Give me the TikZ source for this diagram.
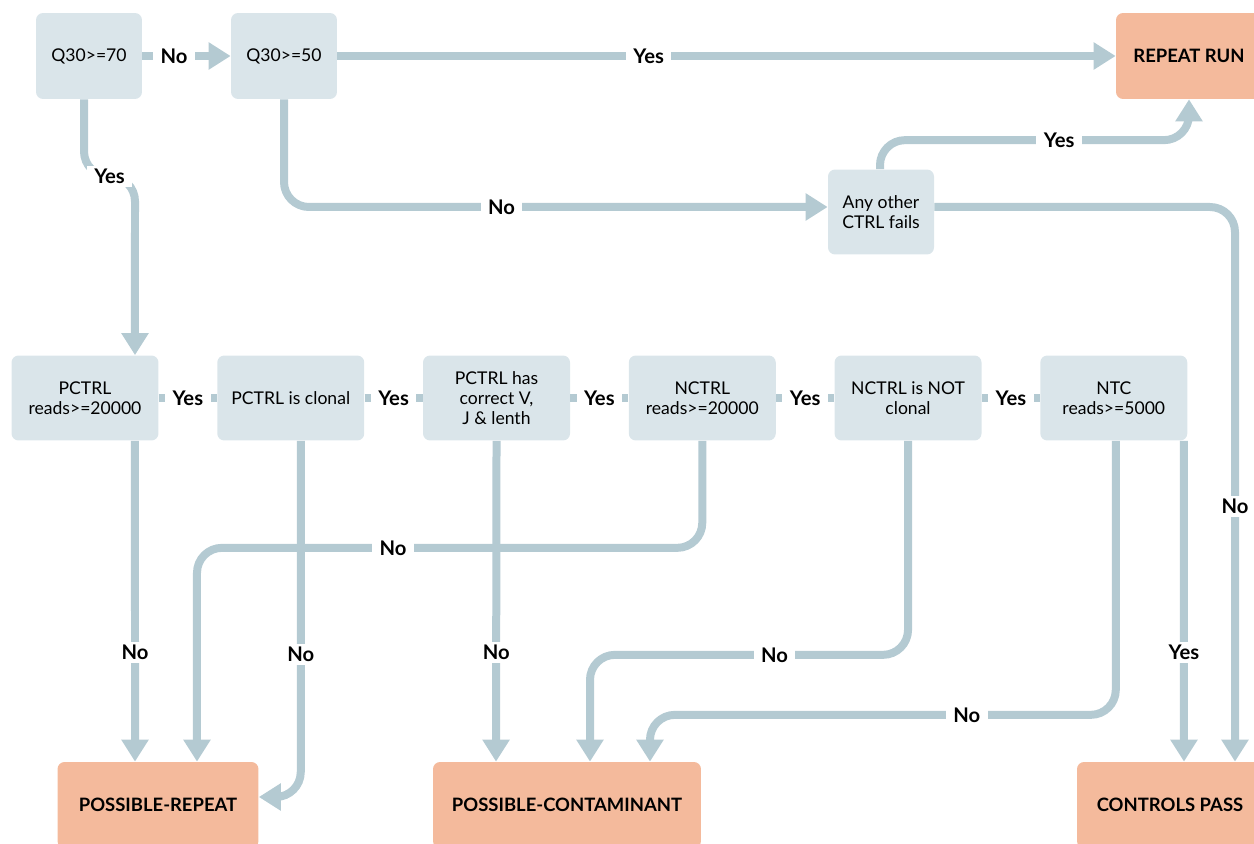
\documentclass[tikz,border=0pt]{standalone}
\usepackage{fontspec}
\setmainfont{Lato}
\usetikzlibrary{positioning,arrows.meta}
\definecolor{testblue}{HTML}{DAE5EA}
\definecolor{linkblue}{HTML}{B4CAD2}
\definecolor{resultpink}{HTML}{F4BA9C}

\begin{document}
\begin{tikzpicture}[
        x=0.02cm, y=-0.02cm,
        node distance = 4.116cm,
        test/.style = {fill=testblue, rounded corners=0.14cm, align=center,
            minimum width=2.94cm, minimum height=1.7cm, inner sep=2pt,
            font=\fontsize{10}{11.5}\selectfont},
        smalltest/.style = {test, minimum width=2.12cm, minimum height=1.72cm},
        result/.style = {fill=resultpink, rounded corners=0.14cm,
            minimum height=1.72cm, font=\bfseries\fontsize{10.5}{12}\selectfont},
        link/.style = {draw=linkblue, line width=0.16cm, rounded corners=0.5cm},
        arrow/.style = {link, -{Triangle[length=0.44cm,width=0.52cm]}},
        lab/.style = {fill=white, inner xsep=0.15cm, inner ysep=0.06cm,
            rounded corners=0pt, font=\bfseries\fontsize{11.5}{12}\selectfont}]
        \useasboundingbox (0,0) rectangle (1254,844);
        % NODES
        % top row
        \node[smalltest] (q70) at (89,56) {Q30>=70};
        \node[smalltest] (q50) at (284,56) {Q30>=50};
        \node[result, minimum width=2.92cm] (rerun) at (1189,56) {REPEAT RUN};
        \node[smalltest, minimum height=1.7cm] (other) at (881,212) {Any other\\CTRL fails};
        % control checks
        \node[test] (p1) at (85,398) {PCTRL\\reads>=20000};
        \node[test, right of = p1] (p2) {PCTRL is clonal};
        \node[test, right of = p2] (p3) {PCTRL has\\correct V,\\J \& lenth};
        \node[test, right of = p3] (p4) {NCTRL\\reads>=20000};
        \node[test, right of = p4] (p5) {NCTRL is NOT\\clonal};
        \node[test, right of = p5] (p6) {NTC\\reads>=5000};
        % results
        \node[result, minimum width=4.02cm] (o1) at (158,805) {POSSIBLE-REPEAT};
        \node[result, minimum width=5.36cm] (o2) at (567,805) {POSSIBLE-CONTAMINANT};
        \node[result, minimum width=3.72cm] (o3) at (1170,805) {CONTROLS PASS};

        % ARROWS
        \draw[arrow] (q70) -- node[lab, pos=0.36] {No} (q50);
        \draw[arrow] (q50) -- node[lab, pos=0.40] {Yes} (rerun);
        \draw[arrow] ([xshift=-0.1cm]q70.south) -- ++(0,77) -- node[lab] {Yes} ++(51,0)
            -- ([xshift=1cm]p1.north);
        \draw[arrow] (q50.south) |- node[lab, pos=0.70] {No} ([yshift=0.1cm]other.west);
        \draw[arrow] ([xshift=-0.02cm]other.north) -- ++(0,-29)
            -| node[lab, pos=0.29] {Yes} (rerun.south);
        \draw[arrow] ([yshift=0.1cm]other.east) -| node[lab, pos=0.77] {No} ([xshift=1.3cm]o3.north);
        % row of checks
        \draw[link] (p1) -- node[lab] {Yes} (p2);
        \draw[link] (p2) -- node[lab] {Yes} (p3);
        \draw[link] (p3) -- node[lab] {Yes} (p4);
        \draw[link] (p4) -- node[lab] {Yes} (p5);
        \draw[link] (p5) -- node[lab] {Yes} (p6);
        % failures
        \draw[arrow] ([xshift=1cm]p1.south) -- node[lab, pos=0.66] {No} ([xshift=-0.46cm]o1.north);
        \draw[arrow] ([xshift=0.2cm]p2.south) |- node[lab, pos=0.30] {No} ([yshift=0.16cm]o1.east);
        \draw[arrow] (p3.south) -- node[lab, pos=0.66] {No} ([xshift=-1.42cm]o2.north);
        \draw[arrow] (p4.south) -- ++(0,107) -| node[lab, pos=0.306] {No} ([xshift=0.78cm]o1.north);
        \draw[arrow] (p5.south) -- ++(0,214) -| node[lab, pos=0.21] {No} ([xshift=0.46cm]o2.north);
        \draw[arrow] ([xshift=0.04cm]p6.south) -- ++(0,274) -| node[lab, pos=0.16] {No} ([xshift=1.66cm]o2.north);
        \draw[arrow] ([xshift=1.4cm]p6.south) -- node[lab, pos=0.66] {Yes} ([xshift=0.28cm]o3.north);
    \end{tikzpicture}
\end{document}
